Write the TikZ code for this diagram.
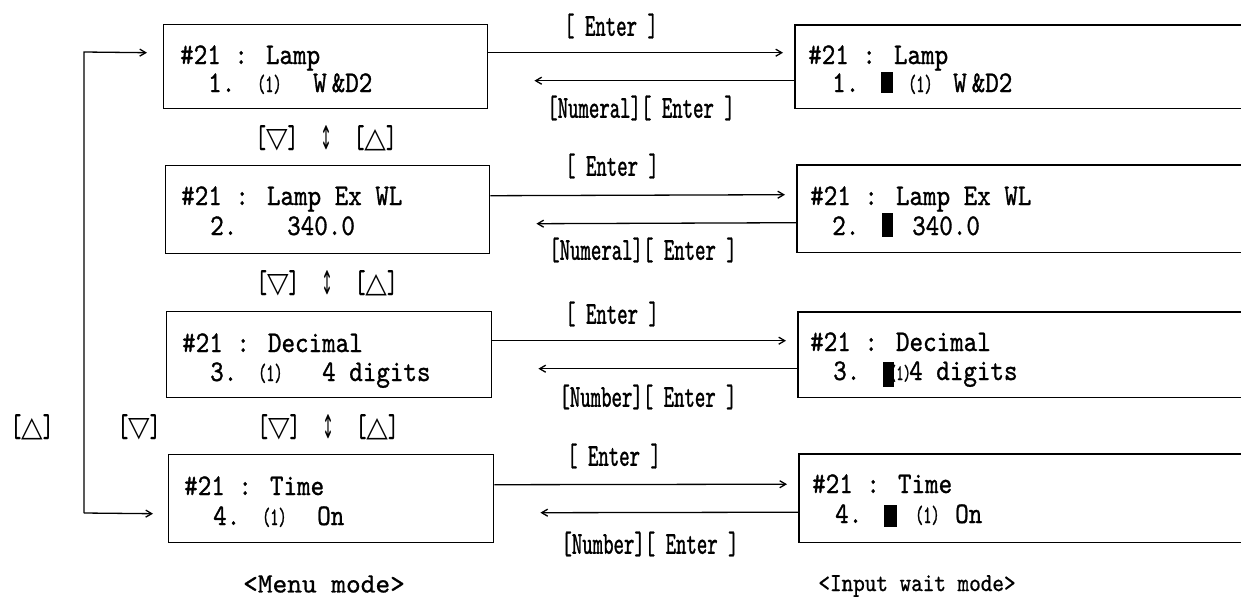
\documentclass[tikz,border=0pt]{standalone}
\usepackage{fontspec}
\usetikzlibrary{arrows.meta}
\newfontfamily\boxfont{lmmono10-regular.otf}[FakeStretch=0.86,FakeBold=1]
\newfontfamily\lblfont{lmmono10-regular.otf}[FakeStretch=0.62,FakeBold=1]
\newfontfamily\menufont{lmmono10-regular.otf}[FakeStretch=1.0,FakeBold=0.8]
\newfontfamily\inpfont{lmmono10-regular.otf}[FakeStretch=0.85,FakeBold=0.8]
\newfontfamily\symfont{DejaVu Sans}
\tikzset{
  lcd/.style={draw, line width=1.4pt, rectangle, inner sep=0pt, anchor=north west},
  lcdopen/.style={rectangle, inner sep=0pt, anchor=north west},
  edge3/.style={line width=1.4pt},
  arr/.style={-{Straight Barb[length=6pt,width=7pt]}, line width=1.3pt},
  tx/.style={anchor=base west, inner sep=0pt, font=\boxfont\fontsize{30}{32}\selectfont},
  sm/.style={anchor=base west, inner sep=0pt, font=\lblfont\fontsize{25}{27}\selectfont},
  lbl/.style={inner sep=0pt, font=\lblfont\fontsize{32}{34}\selectfont},
  cur/.style={fill=black, inner sep=0pt, anchor=north west},
  updn/.style={lbl},
}
\newcommand{\dntri}{{\symfont\fontsize{28}{28}\selectfont ▽}}
\newcommand{\uptri}{{\symfont\fontsize{28}{28}\selectfont △}}
\newcommand{\updnarr}{\raisebox{-2pt}{\scalebox{0.55}[1.25]{\symfont\fontsize{26}{26}\selectfont ↕}}}
\begin{document}
\begin{tikzpicture}[x=1pt,y=-1pt]
\useasboundingbox (0,0) rectangle (1241,598);
\clip (0,0) rectangle (1241,598);
% menu mode boxes
\node[lcd, minimum width=324pt, minimum height=84pt] (m1) at (163,24) {};
\node[lcd, minimum width=324pt, minimum height=88pt] (m2) at (165,165) {};
\node[lcd, minimum width=325pt, minimum height=86pt] (m3) at (166,311) {};
\node[lcd, minimum width=325pt, minimum height=88pt] (m4) at (168,454) {};
% input wait mode boxes (run off the right edge)
\node[lcdopen, minimum width=460pt, minimum height=83pt] (r1) at (795,25) {};
\node[lcdopen, minimum width=460pt, minimum height=87pt] (r2) at (797,165) {};
\node[lcdopen, minimum width=460pt, minimum height=85pt] (r3) at (798,312) {};
\node[lcdopen, minimum width=460pt, minimum height=88pt] (r4) at (799,454) {};
\foreach \i in {1,2,3,4}{
  \draw[edge3] (r\i.north east) -- (r\i.north west) -- (r\i.south west) -- (r\i.south east);
}
% left box texts
\node[tx] (m1a) at (180,64) {\#21 :  Lamp};
\node[tx] (m1b) at (208,92) {1.};
\node[sm] (m1c) at (257,92) {(1)};
\node[tx] (m1d) at (313,92) {W\,\&D2};
\node[tx] (m2a) at (181,205) {\#21 :  Lamp Ex WL};
\node[tx] (m2b) at (210,235) {2.};
\node[tx] (m2c) at (287,235) {340.0};
\node[tx] (m3a) at (182,352) {\#21 :  Decimal};
\node[tx] (m3b) at (210,381) {3.};
\node[sm] (m3c) at (258,381) {(1)};
\node[tx] (m3d) at (322,381) {4 digits};
\node[tx] (m4a) at (184,495) {\#21 :  Time};
\node[tx] (m4b) at (213,525) {4.};
\node[sm] (m4c) at (262,525) {(1)};
\node[tx] (m4d) at (317,525) {On};
% right box texts
\node[tx] (r1a) at (808,64) {\#21 :  Lamp};
\node[tx] (r1b) at (832,92) {1.};
\node[cur, minimum width=12pt, minimum height=21pt] (r1k) at (881,72) {};
\node[sm] (r1c) at (908,92) {(1)};
\node[tx] (r1d) at (953,92) {W\,\&D2};
\node[tx] (r2a) at (810,205) {\#21 :  Lamp Ex WL};
\node[tx] (r2b) at (832,235) {2.};
\node[cur, minimum width=11pt, minimum height=24pt] (r2k) at (882,213) {};
\node[tx] (r2c) at (912,235) {340.0};
\node[tx] (r3a) at (810,351) {\#21 :  Decimal};
\node[tx] (r3b) at (833,380) {3.};
\node[cur, minimum width=11pt, minimum height=25pt] (r3k) at (883,362) {};
\node[anchor=base west, inner sep=0pt, font=\lblfont\fontsize{22}{24}\selectfont] (r3c) at (889,380) {(1)};
\node[tx] (r3d) at (909,380) {4 digits};
\node[tx] (r4a) at (812,493) {\#21 :  Time};
\node[tx] (r4b) at (835,523) {4.};
\node[cur, minimum width=13pt, minimum height=22pt] (r4k) at (884,505) {};
\node[sm] (r4c) at (915,523) {(1)};
\node[tx] (r4d) at (955,523) {On};
% horizontal connectors
\foreach \i in {1,2,3,4}{
  \draw[arr] ([yshift=14pt]m\i.east) -- ([yshift=14pt,xshift=-12pt]r\i.west);
  \draw[arr] ([yshift=-14pt]r\i.west) -- ([yshift=-14pt,xshift=46pt]m\i.east);
}
% labels
\node[lbl] (e1) at (611,26) {[ Enter ]};
\node[lbl] (n1) at (641,108) {[Numeral][ Enter ]};
\node[lbl] (e2) at (612,166) {[ Enter ]};
\node[lbl] (n2) at (643,250) {[Numeral][ Enter ]};
\node[lbl] (e3) at (612,314) {[ Enter ]};
\node[lbl] (n3) at (648,397) {[Number][ Enter ]};
\node[lbl] (e4) at (614,456) {[ Enter ]};
\node[lbl] (n4) at (650,544) {[Number][ Enter ]};
% up/down labels
\node[updn] (u1) at (326,138) {[\dntri]\hspace{22pt}\updnarr\hspace{22pt}[\uptri]};
\node[updn] (u2) at (327,283) {[\dntri]\hspace{22pt}\updnarr\hspace{22pt}[\uptri]};
\node[updn] (u3) at (328,427) {[\dntri]\hspace{22pt}\updnarr\hspace{22pt}[\uptri]};
\node[updn] (lu) at (32,427) {[\uptri]};
\node[updn] (ld) at (139,427) {[\dntri]};
% loop connector
\coordinate (lt) at (84,52);
\coordinate (lb) at (84,513);
\draw[arr] (lb) -- (lt) -- ([xshift=-16pt,yshift=14pt]m1.west);
\draw[arr] (lb) -- ([xshift=-15pt,yshift=-15pt]m4.west);
% mode captions
\node[inner sep=0pt, font=\menufont\fontsize{28}{30}\selectfont] (mm) at (324,584) {<Menu mode>};
\node[inner sep=0pt, font=\inpfont\fontsize{26}{28}\selectfont] (im) at (917,586) {<Input wait mode>};
\end{tikzpicture}
\end{document}
